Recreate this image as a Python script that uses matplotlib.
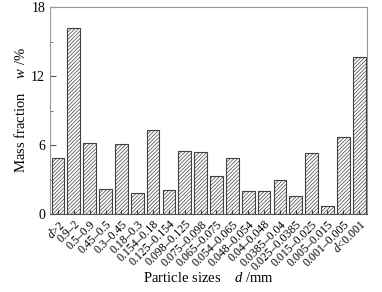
import matplotlib
matplotlib.use("Agg")
import matplotlib.pyplot as plt
from matplotlib.ticker import MultipleLocator

plt.rcParams["font.family"] = ["Liberation Serif", "DejaVu Serif"]
plt.rcParams["mathtext.fontset"] = "custom"
plt.rcParams["mathtext.it"] = "Liberation Serif:italic"
plt.rcParams["mathtext.rm"] = "Liberation Serif"
plt.rcParams["hatch.color"] = "#8a8a8a"
plt.rcParams["hatch.linewidth"] = 0.5

# size classes (mm)
categories = [
    "$d$>2", "0.9–2", "0.5–0.9", "0.45–0.5", "0.3–0.45", "0.18–0.3",
    "0.154–0.18", "0.125–0.154", "0.098–0.125", "0.075–0.098",
    "0.065–0.075", "0.054–0.065", "0.048–0.054", "0.04–0.048",
    "0.0385–0.04", "0.025–0.0385", "0.015–0.025", "0.005–0.015",
    "0.001–0.005", "$d$<0.001",
]
mass_fraction = [4.9, 16.15, 6.15, 2.15, 6.1, 1.83, 7.28, 2.06, 5.45, 5.36,
                 3.27, 4.84, 2.0, 2.0, 2.93, 1.54, 5.28, 0.72, 6.67, 13.65]

fig = plt.figure(figsize=(3.82, 2.92), dpi=100)
ax = fig.add_axes([0.131, 0.267, 0.830, 0.709])

x = range(len(categories))
ax.bar(x, mass_fraction, width=0.8, color="white", edgecolor="#404040",
       linewidth=0.8, hatch="/////////")

ax.set_xlim(-0.5, len(categories) - 0.5)
ax.set_ylim(0, 18)
ax.yaxis.set_major_locator(MultipleLocator(6))
ax.yaxis.set_minor_locator(MultipleLocator(3))
ax.tick_params(axis="y", which="both", direction="in", labelsize=10,
               color="#555555")
ax.tick_params(axis="y", which="major", length=4)
ax.tick_params(axis="y", which="minor", length=2.5)
ax.set_xticks(list(x))
ax.set_xticklabels(categories, rotation=45, ha="right",
                   rotation_mode="anchor", fontsize=8.5)
ax.tick_params(axis="x", direction="in", length=3, color="#333333", pad=3)

for side in ("top", "right", "left"):
    ax.spines[side].set_color("#999999")
ax.spines["bottom"].set_color("#555555")

ax.set_ylabel("Mass fraction    $w$ /%", fontsize=10.5, labelpad=2)
fig.text(0.545, 0.048, "Particle sizes    $d$ /mm", fontsize=10.5,
         ha="center", va="center")

fig.savefig("out.png", dpi=100)
